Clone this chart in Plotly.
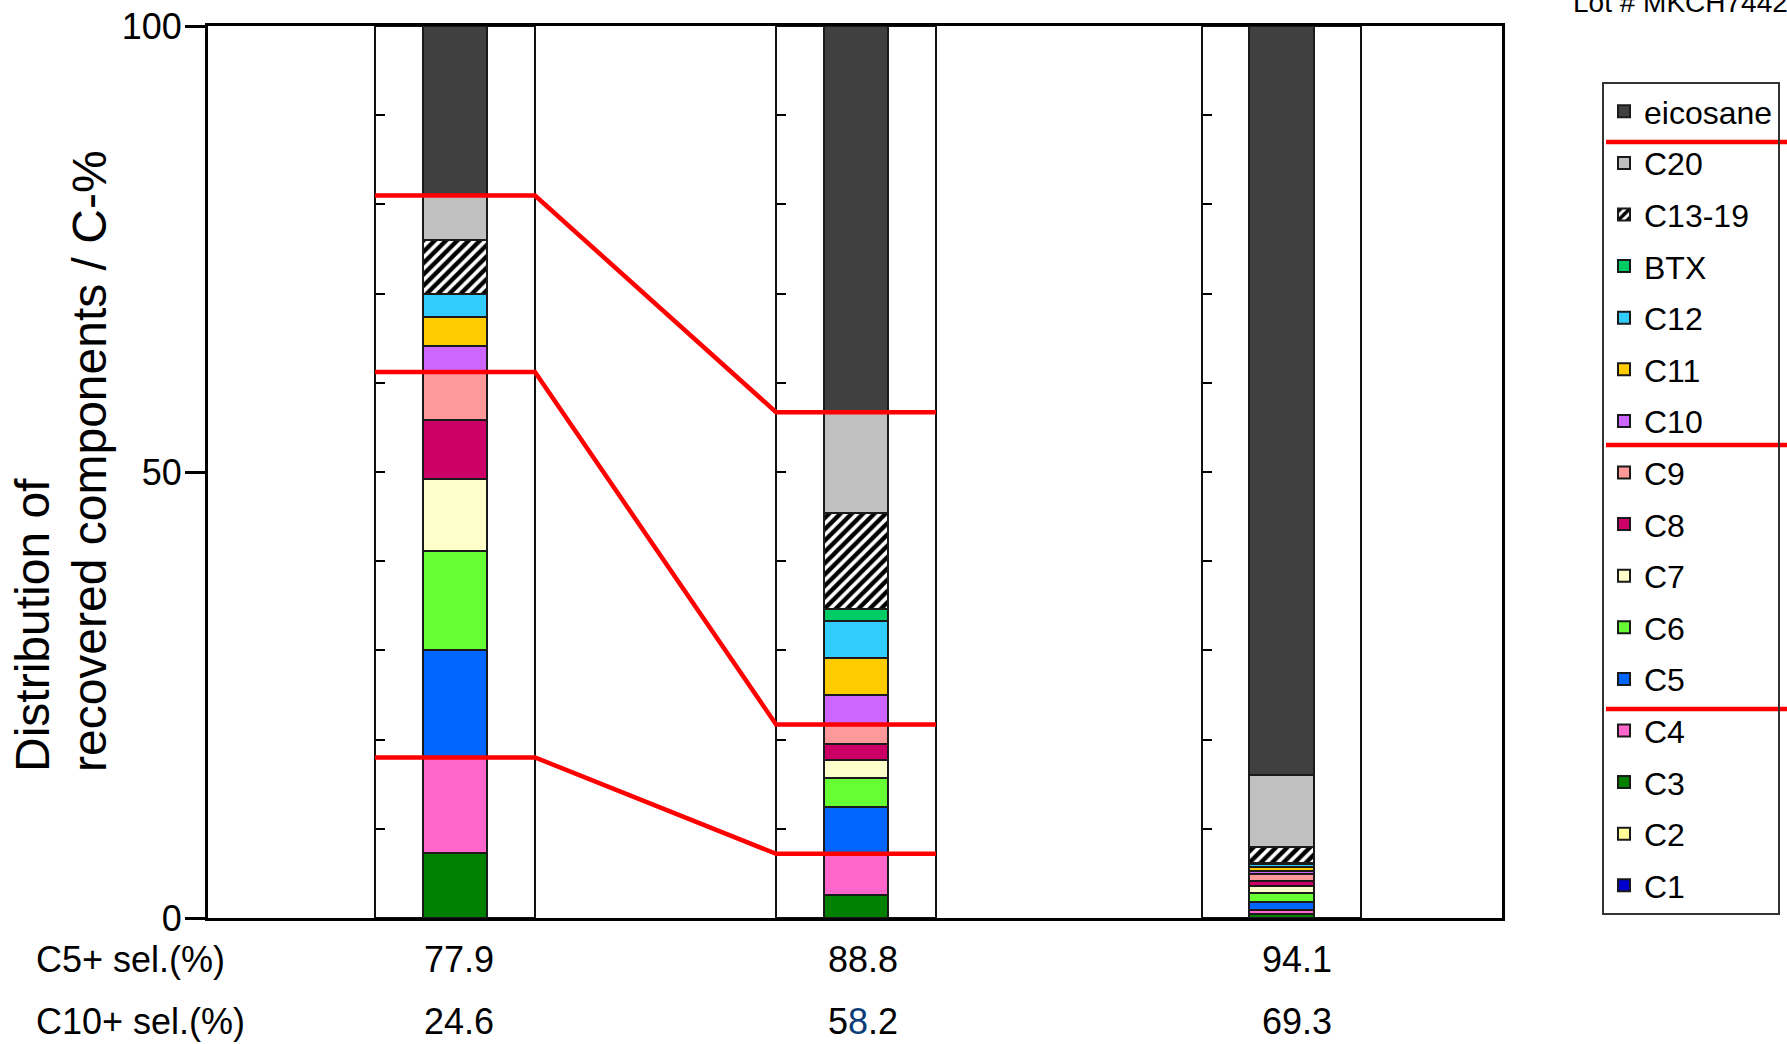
import plotly.graph_objects as go

# ---------------- data ----------------
components = ["C1", "C2", "C3", "C4", "C5", "C6", "C7", "C8", "C9", "C10",
              "C11", "C12", "BTX", "C13-19", "C20", "eicosane"]
# C-% per component, bottom (C1) to top (eicosane)
run_1 = [0.0, 0.0, 7.3, 10.7, 12.0, 11.1, 8.1, 6.6, 5.4, 2.9, 3.3, 2.6, 0.0, 6.0, 5.0, 19.0]
run_2 = [0.0, 0.0, 2.6, 4.6, 5.3, 3.2, 2.0, 1.8, 2.2, 3.3, 4.2, 4.1, 1.3, 10.8, 11.3, 43.3]
run_3 = [0.0, 0.0, 0.4, 0.5, 0.9, 1.0, 0.8, 0.6, 0.75, 0.35, 0.45, 0.35, 0.1, 1.75, 8.1, 83.95]
runs = [run_1, run_2, run_3]

c5_sel = [77.9, 88.8, 94.1]
c10_sel = [24.6, 58.2, 69.3]
row_labels = ["C5+ sel.(%)", "C10+ sel.(%)"]
y_tick_vals = [0, 50, 100]
box_tick_step = 10
red_boundaries = ["eicosane", "C10", "C5"]   # red lines drawn below these components
connected_runs = [0, 1]
lot_text = "Lot # MKCH7442"

# ---------------- style / layout ----------------
colors = {
    "eicosane": "#404040", "C20": "#C0C0C0", "C13-19": "#FFFFFF", "BTX": "#00CC66",
    "C12": "#33CCFF", "C11": "#FFCC00", "C10": "#CC66FF", "C9": "#FF9999",
    "C8": "#CC0066", "C7": "#FFFFCC", "C6": "#66FF33", "C5": "#0066FF",
    "C4": "#FF66CC", "C3": "#008000", "C2": "#FFFF99", "C1": "#0000CC",
}
FONT = "Liberation Sans, Arial, sans-serif"
BAR_X = [19.09, 50.08, 82.96]     # positions on a 0-100 horizontal axis
BOX_W = 12.36
BAR_W = 4.95
W, H = 1787, 1044
ML, MR, MT, MB = 208, 285, 26, 126
PW, PH = W - ML - MR, H - MT - MB


def px_x(px):
    return (px - ML) / PW


def px_y(px):
    return 1 - (px - MT) / PH


fig = go.Figure()

# outer white boxes
fig.add_trace(go.Bar(
    x=BAR_X, y=[y_tick_vals[-1]] * len(BAR_X), base=[0] * len(BAR_X), width=BOX_W,
    marker=dict(color="white", line=dict(color="#111111", width=2)),
    showlegend=False, hoverinfo="skip",
))

# stacked component bars (added top component first so legend lists eicosane first)
bases = [[sum(r[:i]) for i in range(len(components))] for r in runs]
for i in reversed(range(len(components))):
    comp = components[i]
    marker = dict(color=colors[comp], line=dict(color="#1a1a1a", width=2))
    if comp == "C13-19":
        marker["pattern"] = dict(shape="/", fgcolor="#000000", bgcolor="#FFFFFF",
                                 fgopacity=1, size=8, solidity=0.55, fillmode="overlay")
    fig.add_trace(go.Bar(
        x=BAR_X, y=[r[i] for r in runs], base=[b[i] for b in bases],
        width=BAR_W, name=comp, marker=marker, legendgroup=comp,
        hovertemplate=comp + ": %{y}<extra></extra>",
    ))

# red connecting lines between run 1 and run 2
for comp in red_boundaries:
    idx = components.index(comp)
    xs, ys = [], []
    for r in connected_runs:
        lvl = sum(runs[r][:idx])
        xs += [BAR_X[r] - BOX_W / 2, BAR_X[r] + BOX_W / 2]
        ys += [lvl, lvl]
    fig.add_trace(go.Scatter(x=xs, y=ys, mode="lines",
                             line=dict(color="#FF0000", width=4.5),
                             showlegend=False, hoverinfo="skip"))

# helper axes giving the inner ticks on each box's left edge
extra_axes = {}
for k in range(len(BAR_X)):
    name = f"y{k + 2}"
    fig.add_trace(go.Scatter(x=[BAR_X[k]], y=[0], yaxis=name, mode="markers",
                             marker=dict(opacity=0), showlegend=False,
                             hoverinfo="skip"))
    extra_axes[f"yaxis{k + 2}"] = dict(
        overlaying="y", anchor="free", side="left",
        position=(BAR_X[k] - BOX_W / 2) / 100,
        range=[0, 100], tick0=0, dtick=box_tick_step,
        ticks="inside", ticklen=9, tickwidth=2, tickcolor="black",
        showticklabels=False, showline=False, showgrid=False, zeroline=False,
    )

annotations = []
# selectivity rows
row_y = [px_y(959), px_y(1022)]
for label, yy in zip(row_labels, row_y):
    annotations.append(dict(text=label, xref="paper", yref="paper", x=px_x(34), y=yy,
                            xanchor="left", yanchor="middle", showarrow=False,
                            font=dict(size=36, color="black", family=FONT)))
shifts = [4, 7, 15]
for k in range(len(BAR_X)):
    t5 = f"{c5_sel[k]:.1f}"
    t10 = f"{c10_sel[k]:.1f}"
    if k == 1:
        t10 = t10[0] + "<span style='color:#0b3d79'>" + t10[1] + "</span>" + t10[2:]
    for txt, yy in zip([t5, t10], row_y):
        annotations.append(dict(text=txt, xref="x", yref="paper", x=BAR_X[k], y=yy,
                                xshift=shifts[k], xanchor="center", yanchor="middle",
                                showarrow=False,
                                font=dict(size=36, color="black", family=FONT)))
# y title (two lines)
for txt, cx in [("Distribution of", 32), ("recovered components / C-%", 89)]:
    annotations.append(dict(text=txt, xref="paper", yref="paper", x=px_x(cx),
                            y=px_y(774), xanchor="center", yanchor="bottom",
                            textangle=-90, showarrow=False,
                            font=dict(size=48, color="black", family=FONT)))
# lot number (cut at top right, as in the original)
annotations.append(dict(text=lot_text, xref="paper", yref="paper", x=px_x(1571),
                        y=px_y(20), xanchor="left", yanchor="bottom", showarrow=False,
                        font=dict(size=28, color="black", family=FONT)))

# red separators in legend
shapes = []
for ypx in [142, 445, 709]:
    shapes.append(dict(type="line", xref="paper", yref="paper",
                       x0=px_x(1606), x1=px_x(1792), y0=px_y(ypx), y1=px_y(ypx),
                       line=dict(color="#FF0000", width=4.5)))

fig.update_layout(
    width=W, height=H,
    margin=dict(l=ML, r=MR, t=MT, b=MB, autoexpand=False),
    paper_bgcolor="white", plot_bgcolor="white",
    barmode="overlay", bargap=0,
    font=dict(family=FONT, color="black"),
    xaxis=dict(range=[0, 100], showline=True, linecolor="black", linewidth=2.5,
               mirror=True, showticklabels=False, ticks="", showgrid=False,
               zeroline=False),
    yaxis=dict(range=[0, 100], tickvals=y_tick_vals, ticks="outside", ticklen=20,
               tickwidth=2.5, tickcolor="black", showline=True, linecolor="black",
               linewidth=3, mirror=True, showgrid=False, zeroline=False,
               tickfont=dict(size=36, family=FONT, color="black"),
               ticklabelstandoff=-4),
    legend=dict(x=px_x(1602), y=px_y(82), xanchor="left", yanchor="top",
                bordercolor="#333333", borderwidth=2, bgcolor="rgba(0,0,0,0)",
                font=dict(size=32, family=FONT, color="black"),
                traceorder="grouped", tracegroupgap=7,
                entrywidth=170, entrywidthmode="pixels"),
    annotations=annotations,
    shapes=shapes,
    **extra_axes,
)

fig.write_html("out.html", config={"displayModeBar": False},
               post_script="document.body.style.margin='0';document.body.style.overflow='hidden';")
